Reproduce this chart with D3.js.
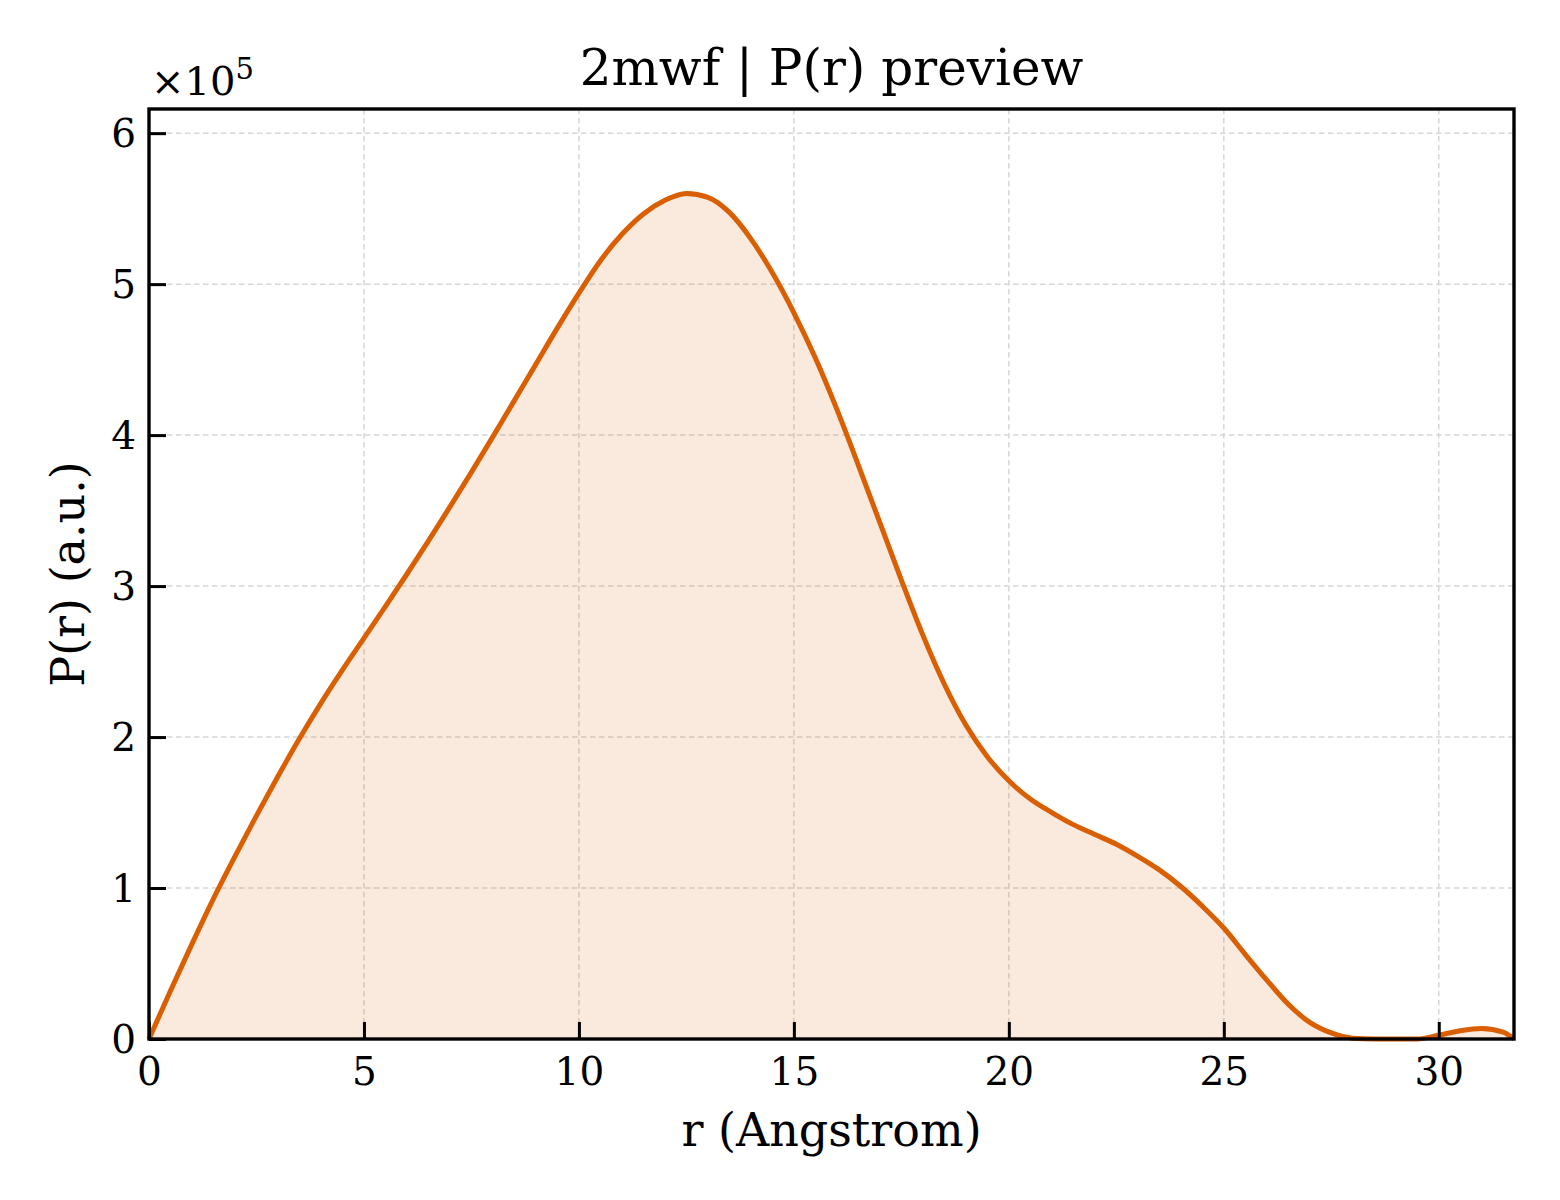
<!DOCTYPE html>
<html><head><meta charset="utf-8">
<script src="https://cdn.jsdelivr.net/npm/d3@7"></script>
<style>body{margin:0;background:#fff}svg{display:block}text{font-family:"DejaVu Serif",serif;fill:#000}</style>
</head><body><svg id="c" width="1560" height="1200"></svg>
<script>
const rValues = [0,0.5,1,1.5,2,2.5,3,3.5,4,4.5,5,5.5,6,6.5,7,7.5,8,8.5,9,9.5,10,10.5,11,11.5,12,12.5,13,13.5,14,14.5,15,15.5,16,16.5,17,17.5,18,18.5,19,19.5,20,20.5,21,21.5,22,22.5,23,23.5,24,24.5,25,25.5,26,26.5,27,27.5,28,28.5,29,29.5,30,30.5,31,31.5,31.75];
const pValues = [0,0.32,0.63,0.93,1.21,1.48,1.74,1.99,2.225,2.445,2.655,2.865,3.08,3.30,3.525,3.755,3.99,4.23,4.47,4.71,4.94,5.155,5.33,5.465,5.555,5.60,5.575,5.475,5.30,5.075,4.81,4.51,4.17,3.80,3.42,3.04,2.675,2.35,2.08,1.87,1.71,1.59,1.50,1.42,1.355,1.29,1.21,1.12,1.01,0.88,0.735,0.56,0.39,0.23,0.11,0.04,0.005,0,0,0,0.025,0.055,0.07,0.045,0];
const xTicks = [0,5,10,15,20,25,30];
const yTicks = [0,1,2,3,4,5,6];
const title = "2mwf | P(r) preview";
const xLabel = "r (Angstrom)";
const yLabel = "P(r) (a.u.)";

const L=149,R=1514,T=109,B=1039;
const svg=d3.select("#c");
const x=d3.scaleLinear().domain([0,31.75]).range([L,R]);
const y=d3.scaleLinear().domain([0,6.16]).range([B,T]);
const data=rValues.map((r,i)=>({r,p:pValues[i]}));

const g=svg.append("g");
g.selectAll("line.gx").data(xTicks).join("line").attr("x1",d=>x(d)).attr("x2",d=>x(d)).attr("y1",T).attr("y2",B)
 .attr("stroke","#d6d6d6").attr("stroke-width",1.5).attr("stroke-dasharray","5.5,3.5");
g.selectAll("line.gy").data(yTicks).join("line").attr("y1",d=>y(d)).attr("y2",d=>y(d)).attr("x1",L).attr("x2",R)
 .attr("stroke","#d6d6d6").attr("stroke-width",1.5).attr("stroke-dasharray","5.5,3.5");

const area=d3.area().x(d=>x(d.r)).y0(y(0)).y1(d=>y(d.p)).curve(d3.curveMonotoneX);
const line=d3.line().x(d=>x(d.r)).y(d=>y(d.p)).curve(d3.curveMonotoneX);
svg.append("path").datum(data).attr("d",area).attr("fill","#D95F02").attr("fill-opacity",0.13);
svg.append("path").datum(data).attr("d",line).attr("fill","none").attr("stroke","#D95F02").attr("stroke-width",5).attr("stroke-linejoin","round");

const xa=svg.append("g").attr("transform",`translate(0,${B})`).call(d3.axisBottom(x).tickValues(xTicks).tickSize(-17).tickPadding(18).tickFormat(d3.format("d")));
const ya=svg.append("g").attr("transform",`translate(${L},0)`).call(d3.axisLeft(y).tickValues(yTicks).tickSize(-17).tickPadding(13).tickFormat(d3.format("d")));
[xa,ya].forEach(a=>{a.select(".domain").remove();a.selectAll(".tick line").attr("stroke","#000").attr("stroke-width",3);
 a.selectAll(".tick text").style("font-family","DejaVu Serif").style("font-size","39px").attr("fill","#000");});
ya.selectAll(".tick text").attr("dy","0.35em");
xa.selectAll(".tick text").attr("dy","0.71em");

svg.append("rect").attr("x",L).attr("y",T).attr("width",R-L).attr("height",B-T).attr("fill","none").attr("stroke","#000").attr("stroke-width",3.4);

svg.append("text").attr("x",(L+R)/2).attr("y",85).attr("text-anchor","middle").style("font-size","50px").text(title);
svg.append("text").attr("x",(L+R)/2).attr("y",1146).attr("text-anchor","middle").style("font-size","46px").text(xLabel);
svg.append("text").attr("transform",`translate(84,${(T+B)/2}) rotate(-90)`).attr("text-anchor","middle").style("font-size","46px").text(yLabel);
const m=svg.append("text").attr("x",151).attr("y",95).style("font-size","40px");
m.append("tspan").text("×10");
m.append("tspan").attr("dy",-16).style("font-size","29px").text("5");
</script></body></html>
